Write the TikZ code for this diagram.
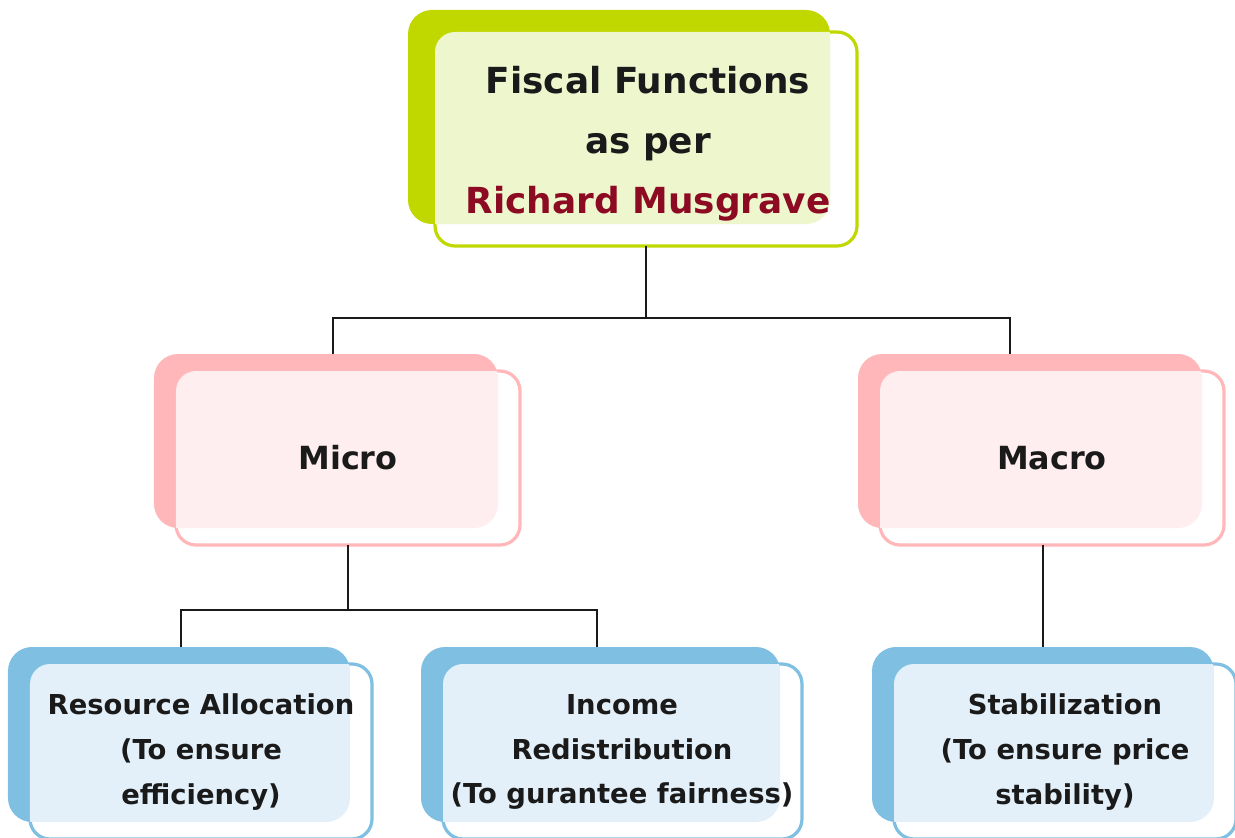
\documentclass[tikz,border=0pt]{standalone}
\usepackage{fontspec}
\setmainfont{DejaVu Sans}
\usetikzlibrary{calc}

\definecolor{limeD}{HTML}{C0D800}
\definecolor{limeL}{HTML}{EEF6CE}
\definecolor{pinkD}{HTML}{FFB7BA}
\definecolor{pinkL}{HTML}{FFEEEF}
\definecolor{blueD}{HTML}{7FBFE2}
\definecolor{blueL}{HTML}{E3F0F9}
\definecolor{inkC}{HTML}{1A1A1A}
\definecolor{wine}{HTML}{8C0B22}

% Two offset rounded cards: a solid back card, an outlined front card,
% and a light tint where the two overlap.
% #1 name, #2 dark colour, #3 light colour, #4/#5 back centre,
% #6/#7 width/height, #8/#9 front offset
\newcommand{\stackcard}[9]{%
  \node[backcard, fill=#2, minimum width=#6bp, minimum height=#7bp] (#1B) at (#4,#5) {};
  \node[frontcard, draw=#2, minimum width=#6bp, minimum height=#7bp] (#1F) at ($(#4,#5)+(#8,#9)$) {};
  \begin{scope}
    \clip[rounded corners=24bp] (#1B.south west) rectangle (#1B.north east);
    \fill[#3, rounded corners=20bp] (#1F.south west) rectangle (#1F.north east);
  \end{scope}
}

\tikzset{
  backcard/.style={rectangle, rounded corners=24bp, inner sep=0pt, outer sep=0pt, draw=none},
  frontcard/.style={rectangle, rounded corners=20bp, inner sep=0pt, outer sep=0pt, line width=3.2bp, fill=white},
  conn/.style={draw=inkC, line width=1.4bp},
  toptext/.style={font=\bfseries\fontsize{36}{60}\selectfont, text=inkC, align=center},
  midtext/.style={font=\bfseries\fontsize{32}{40}\selectfont, text=inkC, align=center},
  lowtext/.style={font=\bfseries\fontsize{27.5}{45}\selectfont, text=inkC, align=center},
}

\begin{document}
\begin{tikzpicture}[x=1bp, y=-1bp]
  \useasboundingbox (0,0) rectangle (1235,838);
  \clip (0,0) rectangle (1235,838);

  % cards
  \stackcard{top}{limeD}{limeL}{619}{117}{422}{214}{27}{22}
  \stackcard{micro}{pinkD}{pinkL}{326}{441}{344}{174}{22}{17}
  \stackcard{macro}{pinkD}{pinkL}{1030}{441}{344}{174}{22}{17}
  \stackcard{res}{blueD}{blueL}{179}{734.5}{342}{175}{22}{17}
  \stackcard{inc}{blueD}{blueL}{600.5}{734.5}{359}{175}{22}{17}
  \stackcard{stab}{blueD}{blueL}{1043}{734.5}{342}{175}{22}{17}

  % labels
  \node[toptext] (topT) at (648,144) {Fiscal Functions\\as per\\\textcolor{wine}{Richard Musgrave}};
  \node[midtext] (microT) at (348,458) {Micro};
  \node[midtext] (macroT) at (1052,458) {Macro};
  \node[lowtext] (resT) at (201,752) {Resource Allocation\\(To ensure\\efficiency)};
  \node[lowtext] (incT) at (622,752) {Income\\Redistribution\\(To gurantee fairness)};
  \node[lowtext] (stabT) at (1065,752) {Stabilization\\(To ensure price\\stability)};

  % connectors
  \draw[conn] (topF.south) -- (topF.south |- 0,318) coordinate (hubTop);
  \draw[conn] (hubTop) -| (microB.north -| 333,0);
  \draw[conn] (hubTop) -| (macroB.north -| 1010,0);
  \draw[conn] (microF.south) -- (microF.south |- 0,610) coordinate (hubMicro);
  \draw[conn] (hubMicro) -| (resB.north -| 181,0);
  \draw[conn] (hubMicro) -| (incB.north -| 597,0);
  \draw[conn] (macroF.south -| stabB.north) -- (stabB.north);
\end{tikzpicture}
\end{document}
